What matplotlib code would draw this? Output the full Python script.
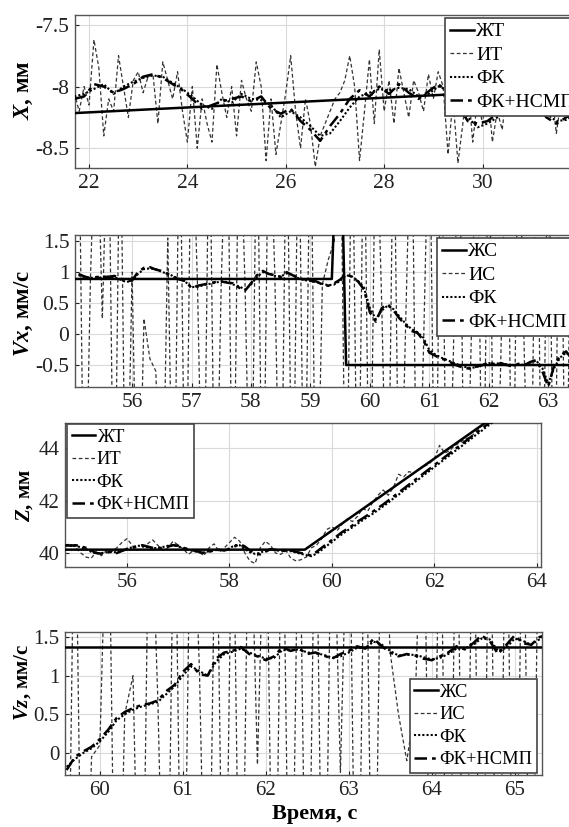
import numpy as np
import matplotlib
matplotlib.use("Agg")
import matplotlib.pyplot as plt

plt.rcParams['font.family'] = ['Liberation Serif', 'DejaVu Serif']
plt.rcParams['mathtext.fontset'] = 'custom'
plt.rcParams['mathtext.rm'] = 'Liberation Serif:bold'
plt.rcParams['mathtext.it'] = 'Liberation Serif:italic:bold'

# ---------------- X, мм (21.7 .. 31.9 s) ----------------
x_true_t = [21.7, 31.9]
x_true = [-8.215, -8.013]
x_meas_t0, x_meas_dt = 21.7, 0.1
x_meas = [-8.05, -8.2, -8.0, -8.15, -7.62, -7.85, -8.4, -8.1, -8.2, -7.75,
          -8.0, -8.25, -7.95, -7.88, -8.05, -7.92, -7.9, -8.3, -7.8, -7.95,
          -8.1, -7.88, -8.2, -8.45, -8.0, -8.5, -8.1, -8.3, -8.45, -7.82,
          -8.05, -8.25, -8.0, -8.4, -7.95, -8.1, -8.2, -7.8, -8.0, -8.6,
          -8.1, -8.55, -8.3, -8.05, -7.75, -8.2, -8.5, -8.1, -8.3, -8.65,
          -8.4, -8.3, -8.2, -8.1, -8.05, -7.95, -7.75, -8.0, -8.6, -8.2,
          -7.78, -8.3, -7.7, -8.2, -7.95, -8.3, -7.85, -8.05, -8.25, -7.95,
          -8.05, -8.2, -7.9, -8.1, -7.88, -8.0, -8.55, -8.1, -8.62, -8.3,
          -7.95, -8.45, -8.1, -8.3, -7.98, -8.45, -8.2, -8.35, -8.0, -8.1,
          -8.2, -7.95, -8.15, -8.05, -8.2, -7.9, -8.1, -8.0, -8.38, -8.1,
          -8.0, -8.15, -8.05]
x_filt_t0, x_filt_dt = 21.7, 0.2
x_fk = [-8.08, -8.06, -8.02, -7.98, -8.06, -8.0, -7.96, -7.93, -7.91, -7.92,
        -7.97, -8.02, -8.08, -8.15, -8.18, -8.1, -8.13, -8.06, -8.1, -8.11,
        -8.15, -8.25, -8.2, -8.25, -8.32, -8.4, -8.38, -8.28, -8.17, -8.08,
        -8.05, -8.02, -8.03, -8.01, -8.02, -8.08, -8.06, -8.0, -8.03, -8.12,
        -8.25, -8.33, -8.3, -8.25, -8.15, -8.08, -8.08, -8.12, -8.22, -8.28,
        -8.27, -8.22]
x_fk_nsmp = [-8.1, -8.08, -7.98, -8.0, -8.05, -8.02, -7.98, -7.92, -7.9, -7.93,
             -7.98, -8.03, -8.1, -8.18, -8.15, -8.12, -8.1, -8.08, -8.12, -8.08,
             -8.18, -8.22, -8.18, -8.28, -8.35, -8.44, -8.32, -8.22, -8.1, -8.03,
             -8.08, -8.0, -8.06, -7.98, -8.05, -8.1, -8.04, -7.98, -8.05, -8.15,
             -8.28, -8.3, -8.28, -8.22, -8.12, -8.05, -8.1, -8.15, -8.25, -8.3,
             -8.25, -8.2]

# ---------------- Vx, мм/с (55.2 .. 63.9 s) ----------------
vx_true_t = [54.9, 59.36, 59.42, 59.53, 59.6, 64.3]
vx_true = [0.89, 0.89, 2.5, 2.5, -0.5, -0.5]
vx_t0, vx_dt = 55.1, 0.1
vx_meas = [4, -4, 0.9, 4, 0.25, 4, -4, 4, -4, 1.0,
           -4, 0.25, -0.4, -0.6, -4, 1.55, -4, 4, -4, 4,
           0.8, -4, 4, -4, 0.85, 4, -4, 4, 0.8, -4,
           4, -4, 4, 1.0, -4, 4, -4, 4, -4, 4,
           -4, 0.8, 1.2, 1.5, 4, -4, 4, -4, 4, -4,
           4, 0.45, -4, 4, -4, 0.1, 4, -4, -0.3, 4,
           -4, 4, -4, -0.5, 4, -4, -0.3, 4, -4, 4,
           -4, -0.5, 4, -4, 4, -0.45, -4, 4, -4, 4,
           -4, 4, -4, 4, 0.3, -4, 4, -4]
vx_fk = [0.95, 0.92, 0.91, 0.9, 0.92, 0.93, 0.92, 0.88, 0.84, 0.86,
         0.97, 1.05, 1.06, 1.05, 1.0, 0.98, 0.93, 0.89, 0.84, 0.76,
         0.76, 0.79, 0.81, 0.83, 0.85, 0.84, 0.8, 0.77, 0.72, 0.8,
         0.92, 1.0, 0.98, 0.94, 0.93, 0.98, 0.96, 0.9, 0.87, 0.86,
         0.84, 0.81, 0.79, 0.8, 0.86, 0.95, 0.93, 0.86, 0.75, 0.42,
         0.24, 0.38, 0.46, 0.4, 0.28, 0.17, 0.08, 0.03, -0.06, -0.26,
         -0.33, -0.38, -0.42, -0.46, -0.5, -0.53, -0.55, -0.53, -0.5, -0.47,
         -0.48, -0.47, -0.49, -0.51, -0.49, -0.5, -0.46, -0.43, -0.55, -0.8,
         -0.55, -0.38, -0.3, -0.38, -0.44, -0.48, -0.44, -0.45]
vx_fk_nsmp = [0.97, 0.93, 0.9, 0.92, 0.93, 0.92, 0.94, 0.9, 0.85, 0.87,
              1.0, 1.07, 1.08, 1.04, 1.02, 0.97, 0.92, 0.88, 0.86, 0.74,
              0.78, 0.8, 0.82, 0.84, 0.85, 0.83, 0.82, 0.75, 0.7, 0.82,
              0.95, 1.02, 0.97, 0.95, 0.92, 1.0, 0.95, 0.9, 0.88, 0.86,
              0.85, 0.8, 0.78, 0.82, 0.88, 0.97, 0.92, 0.85, 0.72, 0.35,
              0.2, 0.42, 0.48, 0.38, 0.25, 0.15, 0.05, 0.02, -0.1, -0.3,
              -0.35, -0.4, -0.42, -0.48, -0.52, -0.55, -0.56, -0.52, -0.5, -0.45,
              -0.5, -0.47, -0.5, -0.52, -0.48, -0.5, -0.45, -0.42, -0.6, -0.85,
              -0.5, -0.35, -0.28, -0.4, -0.45, -0.5, -0.42, -0.45]

# ---------------- Z, мм (54.8 .. 63.3 s) ----------------
z_true_t = [54.8, 59.47, 63.3]
z_true = [40.13, 40.13, 45.38]
z_t0, z_dt = 54.8, 0.1
z_meas = [40.3, 40.35, 40.2, 40.0, 39.85, 39.8, 40.05, 39.9, 40.1, 40.05,
          40.2, 40.4, 40.55, 40.3, 40.1, 40.2, 40.35, 40.5, 40.3, 40.1,
          40.2, 40.45, 40.3, 40.15, 39.95, 40.1, 40.05, 39.9, 40.2, 40.35,
          40.05, 40.2, 40.4, 40.6, 40.45, 40.0, 39.7, 39.6, 40.2, 40.45,
          40.3, 40.0, 39.95, 40.1, 39.8, 39.7, 39.75,
          39.85, 40.2, 40.3, 40.55, 40.9, 41.0, 40.85, 41.1, 41.3, 41.2,
          41.4, 41.7, 41.6, 41.95, 42.2, 42.4, 42.2, 42.5, 43.0, 42.9,
          43.1, 43.05, 43.2, 43.3, 43.4, 43.6, 44.1, 43.8, 43.9, 44.1,
          44.2, 44.35, 44.4, 44.6, 44.8, 44.95, 45.1, 45.2, 45.3]
z_fk = [40.28, 40.3, 40.27, 40.22, 40.15, 40.05, 39.98, 40.0, 40.03, 40.04,
        40.03, 40.1, 40.17, 40.22, 40.28, 40.27, 40.22, 40.18, 40.2, 40.23,
        40.28, 40.3, 40.25, 40.18, 40.12, 40.08, 40.03, 40.02, 40.07, 40.11,
        40.12, 40.11, 40.18, 40.3, 40.3, 40.15, 40.03, 39.97, 40.0, 40.12,
        40.14, 40.1, 40.09, 40.09, 40.07, 40.02, 39.97,
        39.92, 39.88, 39.98, 40.12, 40.28, 40.42, 40.58, 40.72, 40.86, 40.98,
        41.12, 41.25, 41.38, 41.5, 41.64, 41.78, 41.92, 42.08, 42.22, 42.38,
        42.52, 42.68, 42.82, 42.98, 43.12, 43.28, 43.42, 43.58, 43.72, 43.88,
        44.02, 44.18, 44.32, 44.48, 44.62, 44.78, 44.92, 45.08, 45.22]
z_fk_nsmp = [40.3, 40.28, 40.3, 40.25, 40.2, 40.1, 40.0, 39.98, 40.02, 40.05,
             40.0, 40.08, 40.15, 40.2, 40.25, 40.3, 40.25, 40.2, 40.18, 40.2,
             40.25, 40.3, 40.28, 40.2, 40.15, 40.1, 40.05, 40.0, 40.05, 40.1,
             40.12, 40.1, 40.15, 40.25, 40.35, 40.25, 40.1, 40.0, 39.95, 40.05,
             40.15, 40.12, 40.1, 40.08, 40.1, 40.05, 40.0,
             39.95, 39.9, 40.05, 40.2, 40.35, 40.5, 40.65, 40.8, 40.92, 41.05,
             41.2, 41.32, 41.45, 41.58, 41.72, 41.85, 42.0, 42.15, 42.3, 42.45,
             42.6, 42.75, 42.9, 43.05, 43.2, 43.35, 43.5, 43.65, 43.8, 43.95,
             44.1, 44.25, 44.4, 44.55, 44.7, 44.85, 45.0, 45.15, 45.3]

# ---------------- Vz, мм/с (59.6 .. 65.4 s) ----------------
vz_true_t = [59.5, 65.5]
vz_true = [1.37, 1.37]
vz_t0, vz_dt = 59.6, 0.1
vz_meas = [-4, 4, -4, -0.05, 0.1, 4, -4, 0.5, 1.0, -4,
           4, 0.65, -4, 4, -4, 4, 1.1, -4, 4, -4,
           4, -4, 4, -0.15, 4, -4, 4, -4, 4, -4,
           4, -4, 4, -0.25, 4, -4, 4, -4, 4, 1.3,
           0.5, -0.1, 0.6, 4, -4, 4, -4, 4, -4, 4,
           -4, 4, -4, 4, -4, 4, -4, 4, 1.5]
vz_fk = [-0.18, -0.08, 0.0, 0.06, 0.15, 0.27, 0.42, 0.5, 0.56, 0.6,
         0.63, 0.66, 0.76, 0.86, 1.0, 1.12, 1.06, 1.0, 1.18, 1.28,
         1.31, 1.35, 1.3, 1.26, 1.22, 1.23, 1.33, 1.33, 1.34, 1.3,
         1.29, 1.27, 1.23, 1.25, 1.3, 1.36, 1.36, 1.44, 1.4, 1.32,
         1.26, 1.27, 1.27, 1.24, 1.21, 1.23, 1.28, 1.35, 1.35, 1.4,
         1.48, 1.47, 1.32, 1.36, 1.48, 1.45, 1.4, 1.47, 1.52]
vz_fk_nsmp = [-0.22, -0.05, 0.02, 0.08, 0.18, 0.3, 0.45, 0.53, 0.58, 0.62,
              0.64, 0.68, 0.8, 0.88, 1.05, 1.15, 1.02, 1.0, 1.22, 1.3,
              1.32, 1.37, 1.28, 1.25, 1.2, 1.25, 1.37, 1.32, 1.35, 1.28,
              1.3, 1.26, 1.22, 1.28, 1.32, 1.38, 1.35, 1.48, 1.38, 1.3,
              1.25, 1.28, 1.26, 1.22, 1.2, 1.25, 1.3, 1.38, 1.34, 1.42,
              1.52, 1.45, 1.28, 1.4, 1.52, 1.42, 1.4, 1.5, 1.53]


def times(t0, dt, vals):
    return t0 + dt * np.arange(len(vals))


W, H = 569, 827
fig = plt.figure(figsize=(W / 100, H / 100), dpi=100)


def make_ax(left, top, right, bottom):
    return fig.add_axes([left / W, 1 - bottom / H, (right - left) / W, (bottom - top) / H])


def style(ax, fs):
    ax.grid(True, color='#dadada', lw=0.8)
    ax.set_axisbelow(True)
    for s in ax.spines.values():
        s.set_color('#555555')
        s.set_linewidth(1.0)
    ax.tick_params(direction='in', length=3, width=0.8, labelsize=fs,
                   colors='#222222', top=False, right=False, pad=4)


def draw(ax, tt, yt, tm, ym, tf, yfk, yfn):
    l0, = ax.plot(tt, yt, color='black', lw=1.8, zorder=5)
    l1, = ax.plot(tm, ym, color='#333333', lw=0.9, dashes=(3, 2), zorder=2)
    l2, = ax.plot(tf, yfk, color='black', lw=1.5, ls=(0, (1, 1)), zorder=3)
    l3, = ax.plot(tf, yfn, color='black', lw=1.8, dashes=(5, 2, 1.5, 2), zorder=4)
    return [l0, l1, l2, l3]


def legend(ax, handles, names, fs, anchor, loc):
    lg = ax.legend(handles, names, fontsize=fs, handlelength=1.25, handletextpad=0.1,
                   labelspacing=0.3, borderpad=0.25, borderaxespad=0, fancybox=False,
                   framealpha=1, edgecolor='#444444', loc=loc,
                   bbox_to_anchor=(anchor[0] / W, 1 - anchor[1] / H),
                   bbox_transform=fig.transFigure)
    lg.get_frame().set_linewidth(1.2)
    lg.set_zorder(10)
    return lg


names_pos = ['ЖТ', 'ИТ', 'ФК', 'ФК+НСМП']
names_vel = ['ЖС', 'ИС', 'ФК', 'ФК+НСМП']

# X
ax1 = make_ax(75, 15, 575, 168)
style(ax1, 15.5)
h = draw(ax1, x_true_t, x_true,
         times(x_meas_t0, x_meas_dt, x_meas), x_meas,
         times(x_filt_t0, x_filt_dt, x_fk), x_fk, x_fk_nsmp)
ax1.set_xlim(21.715, 31.88)
ax1.set_ylim(-8.66, -7.42)
ax1.set_xticks([22, 24, 26, 28, 30])
ax1.set_yticks([-8.5, -8, -7.5])
ax1.set_yticklabels(['-8.5', '-8', '-7.5'])
legend(ax1, h, names_pos, 14, (445, 18), 'upper left')

# Vx
ax2 = make_ax(75, 235, 575, 387)
style(ax2, 15.5)
h = draw(ax2, vx_true_t, vx_true,
         times(vx_t0, vx_dt, vx_meas), vx_meas,
         times(vx_t0, vx_dt, vx_fk), vx_fk, vx_fk_nsmp)
ax2.set_xlim(55.04, 63.45)
ax2.set_ylim(-0.855, 1.6)
ax2.set_xticks(range(56, 64))
ax2.set_yticks([-0.5, 0, 0.5, 1, 1.5])
ax2.set_yticklabels(['-0.5', '0', '0.5', '1', '1.5'])
legend(ax2, h, names_vel, 14, (437, 238), 'upper left')

# Z
ax3 = make_ax(65, 423, 541, 567)
style(ax3, 15)
h = draw(ax3, z_true_t, z_true,
         times(z_t0, z_dt, z_meas), z_meas,
         times(z_t0, z_dt, z_fk), z_fk, z_fk_nsmp)
ax3.set_xlim(54.79, 64.08)
ax3.set_ylim(39.47, 44.95)
ax3.set_xticks([56, 58, 60, 62, 64])
ax3.set_yticks([40, 42, 44])
legend(ax3, h, names_pos, 13.3, (67, 424), 'upper left')

# Vz
ax4 = make_ax(65, 632, 542, 775)
style(ax4, 15)
h = draw(ax4, vz_true_t, vz_true,
         times(vz_t0, vz_dt, vz_meas), vz_meas,
         times(vz_t0, vz_dt, vz_fk), vz_fk, vz_fk_nsmp)
ax4.set_xlim(59.58, 65.33)
ax4.set_ylim(-0.285, 1.565)
ax4.set_xticks(range(60, 66))
ax4.set_yticks([0, 0.5, 1, 1.5])
ax4.set_yticklabels(['0', '0.5', '1', '1.5'])
legend(ax4, h, names_vel, 13.3, (537, 773), 'lower right')

# axis titles
lab = dict(rotation=90, ha='center', va='center', fontweight='bold')
fig.text(24 / W, 1 - 90 / H, r'$X$, мм', fontsize=16.5, **lab)
fig.text(24 / W, 1 - 313 / H, r'$Vx$, мм/с', fontsize=16.5, **lab)
fig.text(25 / W, 1 - 495 / H, r'$Z$, мм', fontsize=15, **lab)
fig.text(23 / W, 1 - 682 / H, r'$Vz$, мм/с', fontsize=15, **lab)
fig.text(315 / W, 1 - 814 / H, 'Время, с', ha='center', va='center',
         fontsize=16, fontweight='bold')

fig.savefig('out.png', dpi=100)
